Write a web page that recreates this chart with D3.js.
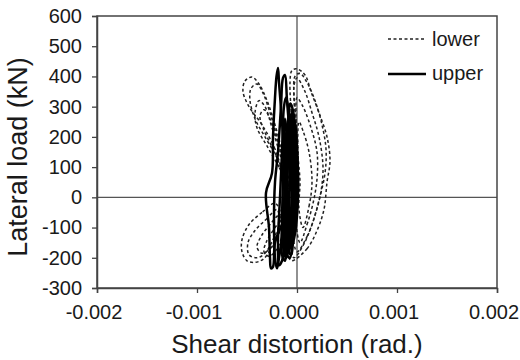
<!DOCTYPE html>
<html>
<head>
<meta charset="utf-8">
<script src="https://cdn.jsdelivr.net/npm/d3@7"></script>
<style>
  body { margin: 0; background: #fff; }
  text { font-family: "Liberation Sans", Arial, sans-serif; fill: #1a1a1a; }
</style>
</head>
<body>
<svg id="chart" width="520" height="360"></svg>
<script>
// tick values
const xTicks = [-0.002, -0.001, 0, 0.001, 0.002];
const yTicks = [-300, -200, -100, 0, 100, 200, 300, 400, 500, 600];

// lower panel cycles (dashed) : [shear distortion, lateral load]
const lowerLoop1 = [[-0.00012, 60], [-0.00022, 160], [-0.00035, 240], [-0.00048, 300], [-0.00054, 350], [-0.00052, 385], [-0.00045, 398], [-0.00038, 375], [-0.0003, 320], [-0.00022, 240], [-0.00015, 150]];
const lowerLoop2 = [[-0.0001, 40], [-0.0002, 130], [-0.00032, 200], [-0.00042, 260], [-0.00047, 320], [-0.00046, 360], [-0.0004, 375], [-0.00034, 345], [-0.00027, 280], [-0.0002, 200], [-0.00014, 110]];
const lowerLoop3 = [[-0.00008, 30], [-0.00018, 100], [-0.0003, 170], [-0.0004, 230], [-0.00042, 280], [-0.00038, 320], [-0.00032, 300], [-0.00025, 230], [-0.00016, 130]];
const lowerLoop4 = [[-0.00005, -210], [0.0001, -170], [0.0002, -110], [0.00027, -40], [0.0003, 50], [0.00033, 120], [0.0003, 200], [0.00022, 280], [0.00014, 350], [0.00008, 405], [0.0, 425], [-0.00005, 420], [-0.00007, 380], [-0.00005, 250], [-0.00002, 100], [-0.00004, -50], [-0.00008, -150], [-0.00008, -200]];
const lowerLoop5 = [[0.0, -180], [0.0001, -130], [0.00018, -60], [0.00024, 20], [0.00026, 100], [0.00022, 200], [0.00015, 280], [0.00008, 350], [0.0, 395], [-0.00003, 370], [-0.00001, 260], [0.0, 120], [-0.00002, 0], [-0.00004, -120]];
const lowerLoop6 = [[0.00003, -150], [0.0001, -90], [0.00016, -20], [0.0002, 60], [0.0002, 150], [0.00014, 230], [0.00006, 300], [0.0, 330], [-0.00001, 280], [0.00001, 150], [0.0, 30], [-0.00001, -80]];
const lowerLoop7 = [[0.00006, -100], [0.00012, -30], [0.00015, 50], [0.00012, 150], [0.00006, 220], [0.00002, 250], [0.00001, 150], [0.00003, 50], [0.00002, -40]];
const lowerLoop8 = [[-0.00022, -20], [-0.00035, -50], [-0.00048, -90], [-0.00055, -140], [-0.00055, -180], [-0.0005, -210], [-0.00042, -215], [-0.00034, -205], [-0.00026, -170], [-0.0002, -120], [-0.00016, -60]];
const lowerLoop9 = [[-0.0002, -40], [-0.0003, -70], [-0.00042, -110], [-0.00049, -150], [-0.00048, -190], [-0.0004, -200], [-0.00032, -185], [-0.00024, -140], [-0.00018, -90]];
const lowerLoop10 = [[-0.00018, -60], [-0.00027, -90], [-0.00036, -130], [-0.0004, -165], [-0.00035, -185], [-0.00027, -170], [-0.0002, -130], [-0.00015, -90]];
const lowerLoop11 = [[-0.00006, 20], [-0.00014, 90], [-0.00024, 160], [-0.00034, 230], [-0.00037, 270], [-0.00033, 290], [-0.00027, 260], [-0.0002, 190], [-0.00012, 110]];
const lowerLoop12 = [[-0.00003, -200], [0.00006, -160], [0.00015, -90], [0.00022, -10], [0.00028, 80], [0.00029, 160], [0.00025, 240], [0.00018, 320], [0.0001, 380], [0.00003, 410], [-0.00002, 400], [-0.00003, 330], [-0.00001, 200], [-0.00001, 60], [-0.00003, -60], [-0.00006, -160]];
const lowerLoop13 = [[-0.00016, -80], [-0.00024, -110], [-0.00031, -150], [-0.00033, -180], [-0.00028, -195], [-0.00021, -175], [-0.00016, -140], [-0.00013, -110]];

// upper panel cycles (solid)
const upperLoop1 = [[-0.0001, -50], [-0.00012, 100], [-0.00015, 250], [-0.00018, 380], [-0.00019, 428], [-0.000205, 400], [-0.00022, 330], [-0.00024, 200], [-0.00025, 80], [-0.00031, 15], [-0.00028, -100], [-0.00027, -200], [-0.00026, -235], [-0.00024, -230], [-0.00022, -150], [-0.00015, -90]];
const upperLoop2 = [[-0.00003, -20], [-0.00006, 150], [-0.0001, 320], [-0.00012, 405], [-0.00014, 395], [-0.00016, 300], [-0.00019, 150], [-0.00022, 50], [-0.00023, -80], [-0.00022, -200], [-0.0002, -235], [-0.00018, -200], [-0.00014, -120], [-0.00008, -60]];
const upperLoop3 = [[-0.00002, 0], [-0.00004, 150], [-0.00008, 280], [-0.00011, 330], [-0.00013, 300], [-0.00015, 150], [-0.00017, 0], [-0.00019, -150], [-0.00018, -225], [-0.00015, -210], [-0.00011, -120], [-0.00006, -50]];
const upperLoop4 = [[0.0, 20], [-0.00002, 150], [-0.00005, 260], [-0.00008, 275], [-0.0001, 200], [-0.00012, 50], [-0.00013, -100], [-0.00012, -190], [-0.00009, -170], [-0.00005, -80]];
const upperLoop5 = [[-0.00001, 0], [-0.00003, 120], [-0.00006, 230], [-0.00008, 240], [-0.00009, 150], [-0.0001, 0], [-0.00011, -150], [-0.00008, -180], [-0.00005, -100]];
const upperLoop6 = [[0.00001, 30], [-0.00001, 200], [-0.00004, 290], [-0.00006, 250], [-0.00007, 100], [-0.00008, -50], [-0.00009, -170], [-0.00006, -190], [-0.00003, -100]];
const upperLoop7 = [[-0.00003, -20], [-0.00005, 100], [-0.00007, 200], [-0.0001, 230], [-0.00011, 120], [-0.00013, -30], [-0.00014, -160], [-0.00011, -200], [-0.00007, -110]];
const upperLoop8 = [[0.00001, 0], [0.0, 150], [-0.00002, 240], [-0.00004, 200], [-0.00005, 50], [-0.00006, -100], [-0.00005, -160], [-0.00002, -120]];
const upperLoop9 = [[-0.00001, -10], [-0.00002, 100], [-0.00004, 220], [-0.00007, 270], [-0.00009, 230], [-0.0001, 100], [-0.00011, -60], [-0.0001, -190], [-0.00007, -200], [-0.00004, -110]];
const upperLoop10 = [[0.0, -30], [-0.00001, 80], [-0.00003, 180], [-0.00005, 210], [-0.00006, 120], [-0.00008, 0], [-0.00009, -120], [-0.00007, -150], [-0.00003, -90]];
const upperLoop11 = [[-0.00004, -40], [-0.00006, 60], [-0.00009, 180], [-0.00012, 260], [-0.00013, 200], [-0.00014, 60], [-0.00015, -80], [-0.00015, -190], [-0.00012, -210], [-0.00009, -130]];
const upperLoop12 = [[-0.00002, 40], [-0.00003, 180], [-0.00005, 300], [-0.00007, 310], [-0.00008, 250], [-0.00009, 120], [-0.00011, -20], [-0.00012, -120], [-0.0001, -150], [-0.00006, -60]];

const lowerLoops = [lowerLoop1, lowerLoop2, lowerLoop3, lowerLoop4, lowerLoop5, lowerLoop6, lowerLoop7, lowerLoop8, lowerLoop9, lowerLoop10, lowerLoop11, lowerLoop12, lowerLoop13];
const upperLoops = [upperLoop1, upperLoop2, upperLoop3, upperLoop4, upperLoop5, upperLoop6, upperLoop7, upperLoop8, upperLoop9, upperLoop10, upperLoop11, upperLoop12];

const plotLeft = 97, plotRight = 497, plotTop = 16, plotBottom = 288;
const svg = d3.select("#chart");

const x = d3.scaleLinear().domain([-0.002, 0.002]).range([plotLeft, plotRight]);
const y = d3.scaleLinear().domain([-300, 600]).range([plotBottom, plotTop]);

// zero lines
svg.append("line")
  .attr("x1", x(0)).attr("x2", x(0)).attr("y1", plotTop).attr("y2", plotBottom)
  .attr("stroke", "#555").attr("stroke-width", 1.3);
svg.append("line")
  .attr("x1", plotLeft).attr("x2", plotRight).attr("y1", y(0)).attr("y2", y(0))
  .attr("stroke", "#555").attr("stroke-width", 1.3);

// loops
const loopLine = d3.line()
  .x(d => x(d[0]))
  .y(d => y(d[1]))
  .curve(d3.curveCatmullRomClosed.alpha(0.5));

svg.append("g").selectAll("path")
  .data(lowerLoops)
  .enter()
  .append("path")
  .attr("d", loopLine)
  .attr("fill", "none")
  .attr("stroke", "#222")
  .attr("stroke-width", 1.5)
  .attr("stroke-dasharray", "3,2.5");

svg.append("g").selectAll("path")
  .data(upperLoops)
  .enter()
  .append("path")
  .attr("d", loopLine)
  .attr("fill", "none")
  .attr("stroke", "#000")
  .attr("stroke-width", 2.5);

// frame
svg.append("rect")
  .attr("x", plotLeft).attr("y", plotTop)
  .attr("width", plotRight - plotLeft).attr("height", plotBottom - plotTop)
  .attr("fill", "none").attr("stroke", "#444").attr("stroke-width", 1.5);

// axes
const xAxis = svg.append("g")
  .attr("transform", "translate(0," + plotBottom + ")")
  .call(d3.axisBottom(x).tickValues(xTicks).tickSize(5).tickPadding(12).tickFormat(d => d.toFixed(3)));
const yAxis = svg.append("g")
  .attr("transform", "translate(" + plotLeft + ",0)")
  .call(d3.axisLeft(y).tickValues(yTicks).tickSize(5).tickPadding(10).tickFormat(d => String(d)));

[xAxis, yAxis].forEach(g => {
  g.select(".domain").attr("stroke", "#444").attr("stroke-width", 1.5);
  g.selectAll(".tick line").attr("stroke", "#444").attr("stroke-width", 1.3);
  g.selectAll("text")
    .attr("fill", "#1a1a1a")
    .style("font-family", "'Liberation Sans', Arial, sans-serif")
    .style("font-size", "20px");
});
xAxis.selectAll(".tick text").attr("dx", -3.5);

// axis titles
svg.append("text")
  .attr("x", 297).attr("y", 353)
  .attr("text-anchor", "middle")
  .style("font-size", "26px")
  .text("Shear distortion (rad.)");

svg.append("text")
  .attr("transform", "translate(27,157) rotate(-90)")
  .attr("text-anchor", "middle")
  .style("font-size", "27px")
  .text("Lateral load (kN)");

// legend
svg.append("line")
  .attr("x1", 388).attr("x2", 426).attr("y1", 39).attr("y2", 39)
  .attr("stroke", "#222").attr("stroke-width", 1.5).attr("stroke-dasharray", "3,2.5");
svg.append("text").attr("x", 432).attr("y", 46).style("font-size", "20px").text("lower");
svg.append("line")
  .attr("x1", 388).attr("x2", 426).attr("y1", 74).attr("y2", 74)
  .attr("stroke", "#000").attr("stroke-width", 2.5);
svg.append("text").attr("x", 432).attr("y", 80).style("font-size", "20px").text("upper");
</script>
</body>
</html>
